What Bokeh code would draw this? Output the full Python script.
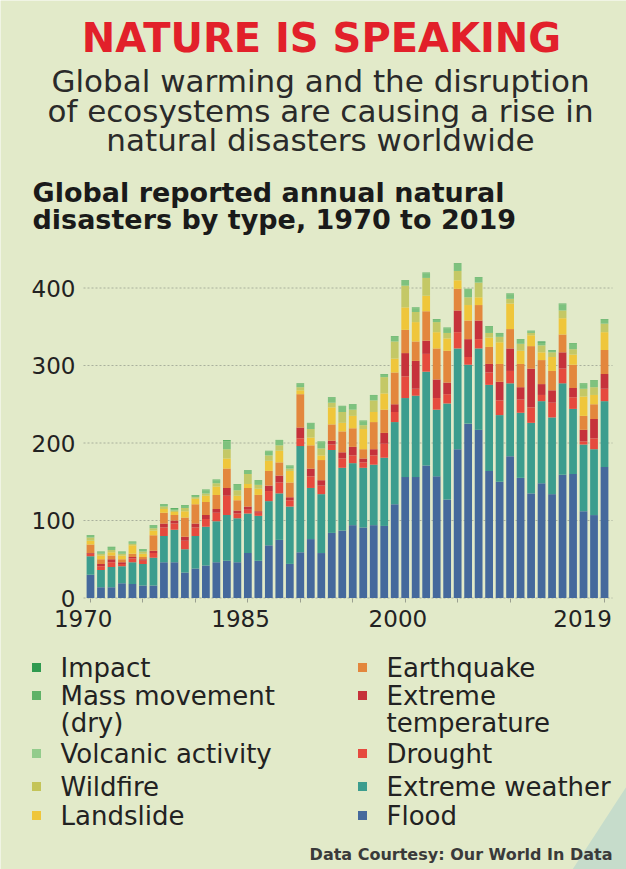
from bokeh.plotting import figure
from bokeh.models import ColumnDataSource, Range1d, FixedTicker
from bokeh.core.properties import value
from bokeh.embed import file_html
from bokeh.resources import INLINE

# ---------------- data ----------------
years = list(range(1970, 2020))

flood = [30, 14, 14, 19, 18, 16, 16, 46, 46, 33,
         38, 42, 46, 48, 46, 58, 48, 68, 75, 44,
         59, 76, 58, 84, 87, 94, 91, 94, 93, 121,
         156, 156, 171, 157, 127, 192, 225, 217, 164, 150,
         183, 155, 135, 148, 134, 159, 160, 112, 107, 169]
extreme_weather = [24, 22, 26, 22, 28, 28, 36, 34, 42, 30,
                   42, 50, 53, 59, 57, 51, 58, 57, 60, 74,
                   137, 66, 76, 107, 81, 80, 77, 78, 88, 106,
                   102, 105, 121, 86, 124, 130, 76, 105, 111, 86,
                   94, 84, 91, 106, 99, 118, 84, 86, 85, 85]
drought = [3, 5, 6, 3, 5, 4, 6, 11, 8, 11,
           11, 10, 11, 25, 6, 5, 4, 13, 14, 8,
           10, 15, 11, 7, 12, 10, 7, 12, 18, 13,
           28, 9, 23, 15, 12, 21, 10, 12, 16, 19,
           16, 17, 20, 8, 19, 19, 15, 4, 14, 16]
extreme_temperature = [1, 3, 4, 2, 2, 2, 3, 5, 4, 5,
                       5, 5, 5, 10, 4, 4, 2, 7, 9, 4,
                       14, 10, 7, 5, 8, 11, 5, 8, 14, 10,
                       30, 36, 17, 24, 15, 28, 23, 24, 11, 24,
                       29, 16, 50, 14, 16, 21, 12, 15, 25, 19]
earthquake = [11, 6, 5, 4, 4, 3, 20, 14, 7, 25,
              25, 17, 18, 25, 13, 24, 21, 19, 17, 19,
              43, 30, 26, 21, 27, 24, 12, 35, 30, 41,
              30, 25, 38, 40, 41, 28, 24, 20, 22, 23,
              25, 30, 29, 31, 25, 23, 30, 18, 19, 31]
landslide = [5, 5, 4, 5, 11, 4, 6, 5, 4, 8,
             7, 8, 11, 13, 6, 5, 8, 13, 15, 15,
             5, 10, 6, 22, 11, 16, 26, 13, 21, 18,
             29, 25, 20, 21, 16, 11, 20, 10, 12, 28,
             33, 17, 14, 10, 18, 21, 13, 25, 12, 23]
wildfire = [4, 2, 3, 2, 2, 3, 3, 3, 2, 4,
            2, 3, 4, 12, 7, 13, 5, 7, 7, 3,
            4, 11, 9, 6, 14, 8, 5, 15, 21, 22,
            28, 13, 23, 13, 7, 12, 10, 19, 6, 7,
            6, 9, 3, 9, 6, 10, 7, 10, 10, 11]
volcanic_activity = [2, 2, 3, 2, 2, 2, 3, 2, 2, 3,
                     2, 4, 4, 10, 7, 4, 5, 5, 6, 3,
                     4, 7, 8, 6, 7, 6, 5, 6, 3, 6,
                     6, 5, 6, 3, 6, 9, 10, 6, 8, 4,
                     6, 5, 2, 3, 2, 8, 7, 6, 8, 5]
mass_movement = [1, 1, 1, 1, 1, 1, 1, 1, 1, 1,
                 1, 1, 1, 2, 1, 1, 1, 1, 1, 1,
                 1, 1, 1, 1, 1, 1, 1, 1, 1, 1,
                 1, 1, 1, 1, 1, 1, 1, 1, 1, 1,
                 1, 1, 1, 1, 1, 1, 1, 1, 1, 1]
impact = [0, 0, 0, 0, 0, 0, 0, 0, 0, 0,
          0, 0, 0, 0, 0, 0, 0, 0, 0, 0,
          0, 0, 0, 0, 0, 0, 0, 0, 0, 0,
          0, 0, 0, 0, 0, 0, 0, 0, 0, 0,
          0, 0, 0, 1, 0, 0, 0, 0, 0, 0]

series_keys = ["flood", "extreme_weather", "drought", "extreme_temperature",
               "earthquake", "landslide", "wildfire", "volcanic_activity",
               "mass_movement", "impact"]
series_colors = ["#45699c", "#3c9d8e", "#e64a3e", "#c6323b", "#e3873d",
                 "#efc63b", "#c4c866", "#7ec27e", "#5fb267", "#2f9a4f"]

x_tick_years = [1970, 1985, 2000, 2019]
x_tick_labels = ["1970", "1985", "2000", "2019"]
x_minor_years = [1975, 1980, 1990, 1995, 2005, 2010]
y_ticks = [0, 100, 200, 300, 400]

legend_left = ["Impact", "Mass movement", "Volcanic activity", "Wildfire", "Landslide"]
legend_left_colors = ["#2f9a4f", "#5fb267", "#93cc8c", "#c4c458", "#efc63b"]
legend_right = ["Earthquake", "Extreme", "Drought", "Extreme weather", "Flood"]
legend_right_colors = ["#e3873d", "#c6323b", "#e64a3e", "#3c9d8e", "#45699c"]

BG = "#e2eac9"
W, H = 626, 869
FONT = "DejaVu Sans"
NB = "\u00a0"

# ---- layout constants (canvas pixels) ----
X_FIRST = 90.0        # pixel centre of the 1970 bar
PX_PER_YEAR = 10.49
Y_ZERO = 597.5        # pixel row of value 0
PX_PER_UNIT = 0.775
CHART_LEFT, CHART_RIGHT = 83, 612


def dx(px):
    return years[0] + (px - X_FIRST) / PX_PER_YEAR


def dy(py):
    return (Y_ZERO - py) / PX_PER_UNIT


p = figure(width=W, height=H, x_range=Range1d(dx(0), dx(W)), y_range=Range1d(dy(H), dy(0)),
           output_backend="svg", toolbar_location=None, min_border=0,
           background_fill_color=BG, border_fill_color=BG, outline_line_color=None)
p.title.visible = False
p.xgrid.visible = False
p.ygrid.visible = False

# decorative faint shape bottom-right
p.patch(x=[dx(572), dx(626), dx(626)], y=[dy(869), dy(786), dy(869)],
        color="#c6dccb", line_color=None)

# dotted gridlines
p.segment(x0=[dx(CHART_LEFT)] * len(y_ticks), x1=[dx(CHART_RIGHT)] * len(y_ticks),
          y0=y_ticks, y1=y_ticks, line_color="#a9b09c", line_dash="2 2", line_width=1)

# stacked bars
source = ColumnDataSource({"year": years, "flood": flood, "extreme_weather": extreme_weather,
                           "drought": drought, "extreme_temperature": extreme_temperature,
                           "earthquake": earthquake, "landslide": landslide,
                           "wildfire": wildfire, "volcanic_activity": volcanic_activity,
                           "mass_movement": mass_movement, "impact": impact})
p.vbar_stack(series_keys, x="year", width=0.74, color=series_colors,
             line_color=None, source=source)

# axes pinned inside the frame
p.xaxis.fixed_location = 0
p.xaxis.ticker = FixedTicker(ticks=x_tick_years, minor_ticks=x_minor_years)
p.xaxis.major_label_overrides = {y: lab + NB * 2 for y, lab in zip(x_tick_years, x_tick_labels)}
p.xaxis.axis_line_color = None
p.xaxis.major_tick_in = 0
p.xaxis.major_tick_out = 4
p.xaxis.minor_tick_in = 0
p.xaxis.minor_tick_out = 4
p.xaxis.major_tick_line_color = "#9aa090"
p.xaxis.minor_tick_line_color = "#9aa090"
p.xaxis.major_label_standoff = 4
p.xaxis.major_label_text_font = FONT
p.xaxis.major_label_text_font_size = "23px"
p.xaxis.major_label_text_color = "#222222"

p.yaxis.fixed_location = dx(CHART_LEFT)
p.yaxis.ticker = FixedTicker(ticks=y_ticks)
p.yaxis.bounds = (0, 400)
p.yaxis.axis_line_color = None
p.yaxis.major_tick_line_color = None
p.yaxis.minor_tick_line_color = None
p.yaxis.major_tick_in = 0
p.yaxis.major_tick_out = 0
p.yaxis.major_label_standoff = 8
p.yaxis.major_label_text_font = FONT
p.yaxis.major_label_text_font_size = "23px"
p.yaxis.major_label_text_color = "#222222"


def add_text(pxs, pys, texts, size, color="#222222", style="normal", align="left",
             baseline="middle"):
    p.text(x=[dx(v) for v in pxs], y=[dy(v) for v in pys], text=texts,
           text_font=value(FONT), text_font_size=f"{size}px", text_font_style=style,
           text_color=color, text_align=align, text_baseline=baseline)


# header
add_text([321], [37], ["NATURE IS SPEAKING"], 40, color="#e2202a", style="bold", align="center")
add_text([320, 320, 320], [80, 110, 139],
         ["Global warming and the disruption",
          "of ecosystems are causing a rise in",
          "natural disasters worldwide"], 31, color="#2a2a2a", align="center")
add_text([32, 32], [192, 219],
         ["Global reported annual natural", "disasters by type, 1970 to 2019"],
         27, color="#1a1a1a", style="bold")

# legend
row_y = [667, 695, 753, 786, 815]
p.scatter(x=[dx(36)] * 5, y=[dy(v) for v in row_y], marker="square", size=9,
          color=legend_left_colors, line_color=None)
p.scatter(x=[dx(362)] * 5, y=[dy(v) for v in row_y], marker="square", size=9,
          color=legend_right_colors, line_color=None)
add_text([60] * 5 + [60], row_y + [722], legend_left + ["(dry)"], 26)
add_text([386] * 5 + [386], row_y + [722], legend_right + ["temperature"], 26)

# footer
add_text([612], [854], ["Data Courtesy: Our World In Data"], 16, color="#3a3a3a",
         style="bold", align="right")

open("out.html", "w").write(file_html(p, INLINE))
